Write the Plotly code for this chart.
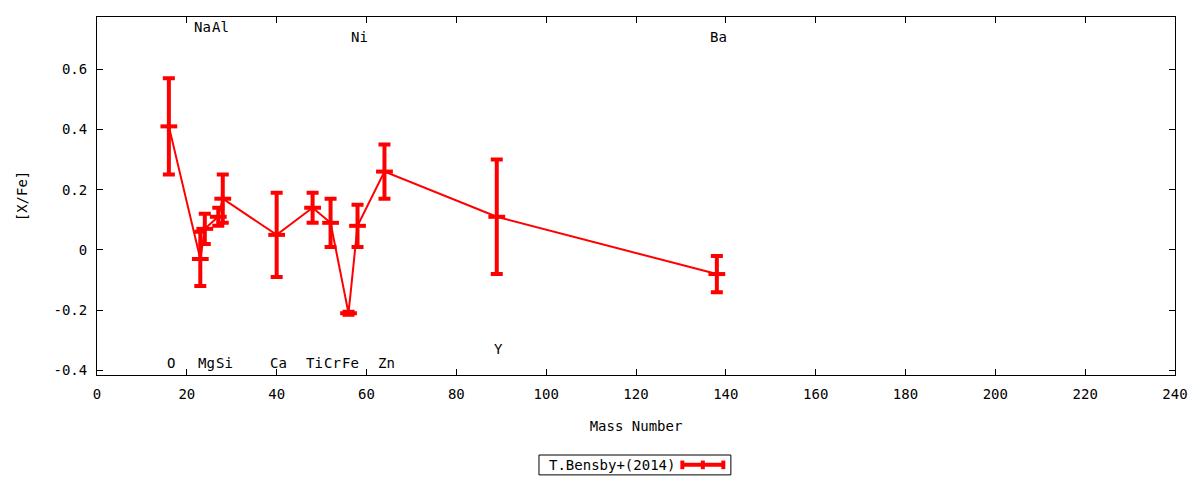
import plotly.graph_objects as go

# Bensby et al. (2014) abundances vs mass number
elements = ["O", "Na", "Mg", "Al", "Si", "Ca", "Ti", "Cr", "Fe", "Ni", "Zn", "Y", "Ba"]
mass = [16, 23, 24, 27, 28, 40, 48, 52, 56, 58, 64, 89, 138]
xfe = [0.41, -0.03, 0.07, 0.11, 0.17, 0.05, 0.14, 0.09, -0.21, 0.08, 0.26, 0.11, -0.08]
err = [0.16, 0.09, 0.05, 0.03, 0.08, 0.14, 0.05, 0.08, 0.005, 0.07, 0.09, 0.19, 0.06]

# element label heights
label_y = [-0.375, 0.74, -0.375, 0.74, -0.375, -0.375, -0.375, -0.375, -0.375, 0.706, -0.375, -0.328, 0.706]

RED = "#ff0000"
FONT = "DejaVu Sans Mono"

fig = go.Figure()
fig.add_trace(go.Scatter(
    x=mass, y=xfe,
    mode="lines+markers",
    line=dict(color=RED, width=2),
    marker=dict(symbol="line-ew", size=12, color=RED, line=dict(color=RED, width=4)),
    error_y=dict(type="data", array=err, visible=True, color=RED, thickness=4, width=6),
    name="T.Bensby+(2014)",
    showlegend=False,
))

for el, m, ly in zip(elements, mass, label_y):
    fig.add_annotation(x=m, y=ly, text=el, showarrow=False, xshift=2,
                       font=dict(family=FONT, size=14, color="black"))

# legend drawn gnuplot-style (title left of sample)
fig.add_shape(type="rect", xref="paper", yref="paper", x0=0.410, x1=0.588, y0=-0.279, y1=-0.2235,
              line=dict(color="black", width=1), fillcolor="white")
fig.add_annotation(xref="paper", yref="paper", x=0.478, y=-0.251, yanchor="middle", text="T.Bensby+(2014)",
                   showarrow=False, font=dict(family=FONT, size=14, color="black"))
fig.add_shape(type="line", xref="paper", yref="paper", x0=0.543, x1=0.581, y0=-0.251, y1=-0.251,
              line=dict(color=RED, width=4))
for xp in (0.543, 0.562, 0.581):
    fig.add_shape(type="line", xref="paper", yref="paper", x0=xp, x1=xp, y0=-0.239, y1=-0.263,
                  line=dict(color=RED, width=4))

fig.update_layout(
    width=1200, height=480,
    margin=dict(l=97, r=23, t=17, b=105),
    plot_bgcolor="white", paper_bgcolor="white",
    font=dict(family=FONT, size=14, color="black"),
    showlegend=False,
)
fig.update_xaxes(
    range=[0, 240], tickvals=list(range(0, 241, 20)),
    ticks="inside", ticklen=6, tickcolor="black", ticklabelstandoff=6,
    showline=True, linecolor="black", linewidth=1, mirror="ticks",
    showgrid=False, zeroline=False,
    title=dict(text="Mass Number", standoff=20, font=dict(family=FONT, size=14)),
)
fig.update_yaxes(
    range=[-0.415, 0.773], tickvals=[-0.4, -0.2, 0, 0.2, 0.4, 0.6],
    ticktext=["-0.4", "-0.2", "0", "0.2", "0.4", "0.6"],
    ticks="inside", ticklen=6, tickcolor="black", ticklabelstandoff=6,
    showline=True, linecolor="black", linewidth=1, mirror="ticks",
    showgrid=False, zeroline=False,
    title=dict(text="[X/Fe]", standoff=22, font=dict(family=FONT, size=14)),
)

fig.write_html("out.html", config={"displayModeBar": False},
               post_script="document.body.style.margin='0';")
